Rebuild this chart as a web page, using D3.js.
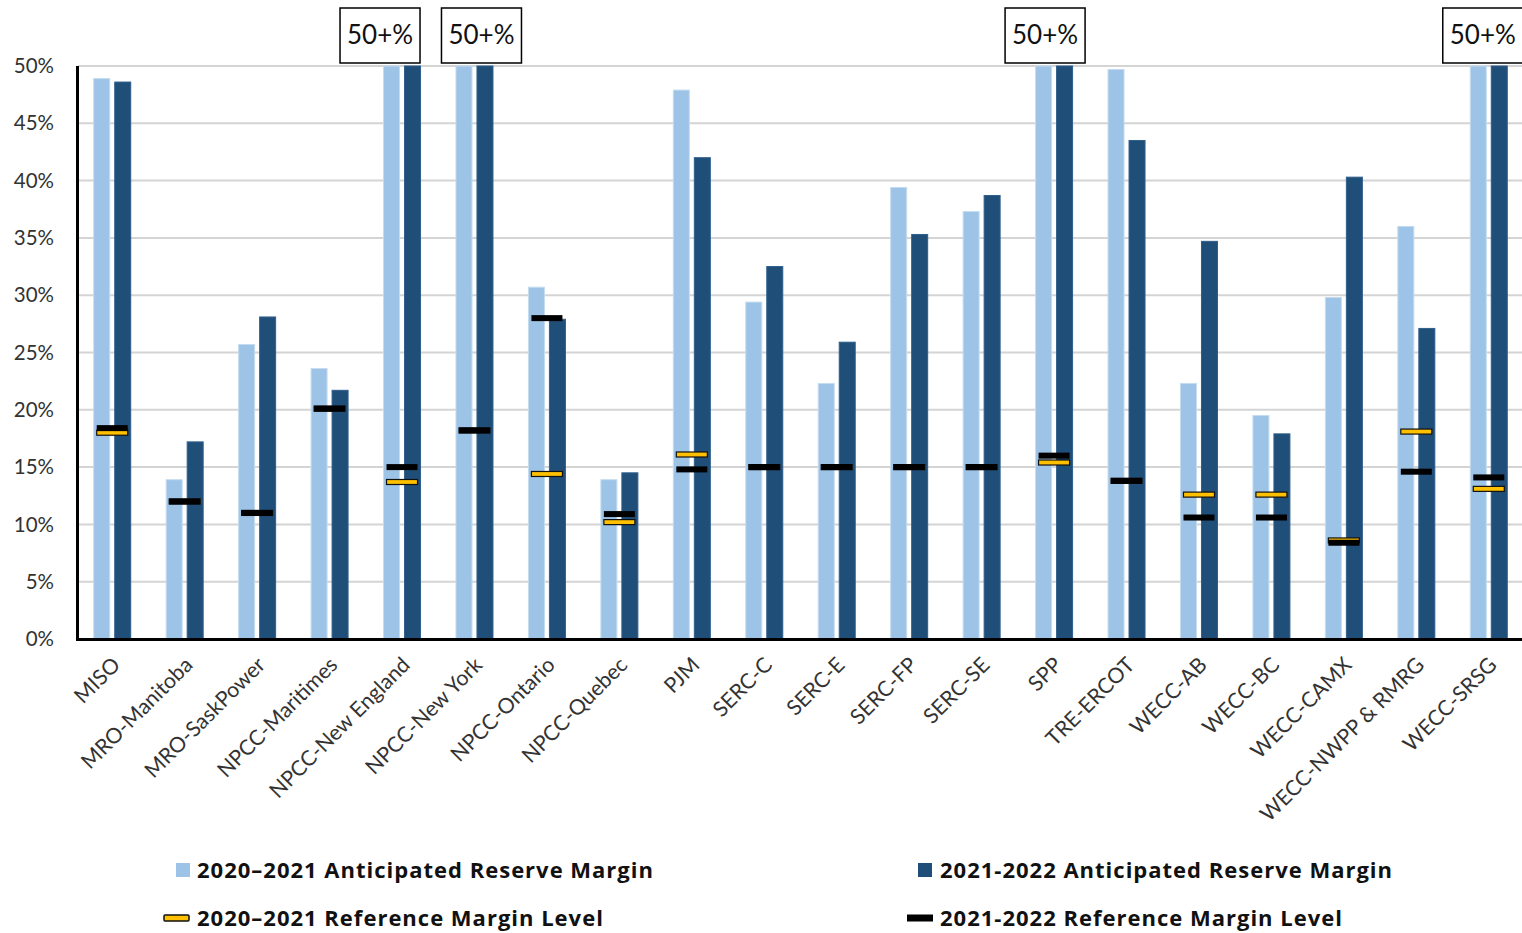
<!DOCTYPE html>
<html>
<head>
<meta charset="utf-8">
<script src="https://cdn.jsdelivr.net/npm/d3@7/dist/d3.min.js"></script>
<style>
  html, body { margin: 0; padding: 0; background: #fff; }
  svg { display: block; }
</style>
</head>
<body>
<svg id="chart" width="1522" height="933"></svg>
<script>
// ---- Data ----
const categories = ["MISO", "MRO-Manitoba", "MRO-SaskPower", "NPCC-Maritimes", "NPCC-New England",
  "NPCC-New York", "NPCC-Ontario", "NPCC-Quebec", "PJM", "SERC-C", "SERC-E", "SERC-FP", "SERC-SE",
  "SPP", "TRE-ERCOT", "WECC-AB", "WECC-BC", "WECC-CAMX", "WECC-NWPP & RMRG", "WECC-SRSG"];
const margin2020 = [48.9, 13.9, 25.7, 23.6, 50, 50, 30.7, 13.9, 47.9, 29.4, 22.3, 39.4, 37.3, 50, 49.7, 22.3, 19.5, 29.8, 36.0, 50];
const margin2021 = [48.6, 17.2, 28.1, 21.7, 50, 50, 27.9, 14.5, 42.0, 32.5, 25.9, 35.3, 38.7, 50, 43.5, 34.7, 17.9, 40.3, 27.1, 50];
const refLevel2020 = [18.0, 12.0, 11.0, 20.1, 13.7, 18.2, 14.4, 10.2, 16.1, 15.0, 15.0, 15.0, 15.0, 15.4, 13.8, 12.6, 12.6, 8.6, 18.1, 13.1];
const refLevel2021 = [18.4, 12.0, 11.0, 20.1, 15.0, 18.2, 28.0, 10.9, 14.8, 15.0, 15.0, 15.0, 15.0, 16.0, 13.8, 10.6, 10.6, 8.4, 14.6, 14.1];
const yTicks = [0, 5, 10, 15, 20, 25, 30, 35, 40, 45, 50];
const overflowCategories = ["NPCC-New England", "NPCC-New York", "SPP", "WECC-SRSG"];
const overflowLabel = "50+%";
const seriesNames = ["2020\u20132021 Anticipated Reserve Margin", "2021-2022 Anticipated Reserve Margin",
  "2020\u20132021 Reference Margin Level", "2021-2022 Reference Margin Level"];

// ---- Layout / style ----
const colLight = "#9DC3E6", colDark = "#1F4E79", colYellow = "#FFC000";
const font = "Lato, 'Open Sans', sans-serif";
const legendFont = "'Open Sans', Lato, sans-serif";
const plotLeft = 76, plotRight = 1525, plotTop = 66, plotBottom = 639;
const svg = d3.select("#chart");

const x = d3.scaleBand().domain(categories).range([plotLeft, plotRight]).paddingInner(0).paddingOuter(0);
const y = d3.scaleLinear().domain([0, 50]).range([plotBottom, plotTop]);
const barW = 16, barGap = 4;

// gridlines
svg.append("g").selectAll("line").data(yTicks.filter(d => d > 0)).join("line")
  .attr("x1", plotLeft + 2).attr("x2", 1522)
  .attr("y1", d => y(d)).attr("y2", d => y(d))
  .attr("stroke", "#d4d4d4").attr("stroke-width", 2);

// y tick labels
svg.append("g").selectAll("text").data(yTicks).join("text")
  .attr("x", 54).attr("y", d => y(d)).attr("dy", "0.35em")
  .attr("text-anchor", "end").attr("font-family", font).attr("font-size", 20.5)
  .attr("fill", "#333").text(d => d + "%");

const cx = c => x(c) + x.bandwidth() / 2;

// bars
const data = categories.map((c, i) => ({ c, a: margin2020[i], b: margin2021[i], r0: refLevel2020[i], r1: refLevel2021[i] }));
svg.append("g").selectAll("rect").data(data).join("rect")
  .attr("x", d => cx(d.c) - barGap / 2 - barW - 0.5).attr("width", barW)
  .attr("y", d => y(d.a)).attr("height", d => y(0) - y(d.a))
  .attr("fill", colLight).attr("stroke", "#c5dcf0").attr("stroke-width", 1);
svg.append("g").selectAll("rect").data(data).join("rect")
  .attr("x", d => cx(d.c) + barGap / 2 + 0.5).attr("width", barW)
  .attr("y", d => y(d.b)).attr("height", d => y(0) - y(d.b))
  .attr("fill", colDark).attr("stroke", "#2f5f8c").attr("stroke-width", 1);

// reference markers
const mW = 31, mH = 5;
svg.append("g").selectAll("rect").data(data).join("rect")
  .attr("x", d => cx(d.c) - mW / 2).attr("width", mW)
  .attr("y", d => y(d.r0) - mH / 2).attr("height", mH)
  .attr("fill", colYellow).attr("stroke", "#111").attr("stroke-width", 1.2);
svg.append("g").selectAll("rect").data(data).join("rect")
  .attr("x", d => cx(d.c) - mW / 2).attr("width", mW)
  .attr("y", d => y(d.r1) - 3).attr("height", 6)
  .attr("fill", "#000");

// axes lines
svg.append("line").attr("x1", 77.5).attr("x2", 77.5).attr("y1", plotTop).attr("y2", plotBottom + 1.5)
  .attr("stroke", "#000").attr("stroke-width", 3);
svg.append("line").attr("x1", 76).attr("x2", 1522).attr("y1", plotBottom + 0.5).attr("y2", plotBottom + 0.5)
  .attr("stroke", "#000").attr("stroke-width", 3);

// x labels
svg.append("g").selectAll("text").data(categories).join("text")
  .attr("transform", c => `translate(${cx(c) + 4},${plotBottom + 22}) rotate(-45)`)
  .attr("text-anchor", "end").attr("dy", "0.35em")
  .attr("font-family", font).attr("font-size", 21.3).attr("fill", "#333")
  .text(c => c);

// overflow annotations
const annotOffset = { "NPCC-New England": -22, "NPCC-New York": 7, "SPP": -9, "WECC-SRSG": -6 };
const annot = svg.append("g").selectAll("g").data(overflowCategories).join("g")
  .attr("transform", c => `translate(${cx(c) + annotOffset[c]},35)`);
annot.append("rect").attr("x", -40).attr("y", -27).attr("width", 80).attr("height", 55)
  .attr("fill", "#fff").attr("stroke", "#000").attr("stroke-width", 1.5);
annot.append("text").attr("text-anchor", "middle").attr("dy", "0.35em")
  .attr("font-family", font).attr("font-size", 26).attr("fill", "#111").text(overflowLabel);

// legend
const legend = svg.append("g").attr("font-family", legendFont).attr("font-size", 22)
  .attr("letter-spacing", 1).attr("font-weight", "bold").attr("fill", "#111");
const legPos = [[197, 870], [940, 870], [197, 918], [940, 918]];
legend.selectAll("text").data(seriesNames).join("text")
  .attr("x", (d, i) => legPos[i][0]).attr("y", (d, i) => legPos[i][1]).attr("dy", "0.35em")
  .text(d => d);
legend.append("rect").attr("x", 176).attr("y", 863).attr("width", 14).attr("height", 14).attr("fill", colLight);
legend.append("rect").attr("x", 918).attr("y", 863).attr("width", 14).attr("height", 14).attr("fill", colDark);
legend.append("rect").attr("x", 164).attr("y", 915).attr("width", 25).attr("height", 6).attr("rx", 1)
  .attr("fill", colYellow).attr("stroke", "#111").attr("stroke-width", 1.5);
legend.append("rect").attr("x", 907).attr("y", 914.5).attr("width", 26).attr("height", 7).attr("fill", "#000");
</script>
</body>
</html>
